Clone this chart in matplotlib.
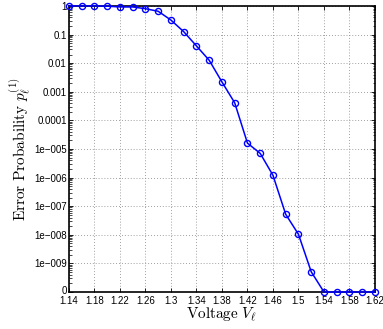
import numpy as np
import matplotlib
matplotlib.use("Agg")
import matplotlib.pyplot as plt
import matplotlib.transforms as mtrans
from matplotlib.ticker import FixedLocator, LogLocator, NullFormatter

voltage = [1.14, 1.16, 1.18, 1.20, 1.22, 1.24, 1.26, 1.28, 1.30, 1.32, 1.34,
           1.36, 1.38, 1.40, 1.42, 1.44, 1.46, 1.48, 1.50, 1.52, 1.54,
           1.56, 1.58, 1.60, 1.62]
error_prob = [1.0, 1.0, 1.0, 0.98, 0.92, 0.92, 0.80, 0.65, 0.32, 0.126, 0.04,
              0.0126, 0.0022, 4.1e-4, 1.6e-5, 7e-6, 1.2e-6, 5.2e-8, 1.04e-8, 5.1e-10, 0.0,
              0.0, 0.0, 0.0, 0.0]
xtick_vals = [1.14, 1.18, 1.22, 1.26, 1.30, 1.34, 1.38, 1.42, 1.46, 1.50, 1.54, 1.58, 1.62]
xtick_labels = ['1.14', '1.18', '1.22', '1.26', '1.3', '1.34', '1.38', '1.42',
                '1.46', '1.5', '1.54', '1.58', '1.62']
ytick_vals = [1e-10, 1e-9, 1e-8, 1e-7, 1e-6, 1e-5, 1e-4, 1e-3, 1e-2, 1e-1, 1]
ytick_labels = ['0', '1e\u2212009', '1e\u2212008', '1e\u2212007', '1e\u2212006', '1e\u2212005',
                '0.0001', '0.001', '0.01', '0.1', '1']

floor = 1e-10
plt.rcParams['mathtext.fontset'] = 'cm'
plt.rcParams['font.family'] = ['Liberation Sans', 'DejaVu Sans']

fig = plt.figure(figsize=(3.83, 3.29), dpi=100)
ax = fig.add_axes([0.180, 0.1125, 0.799, 0.8695])

y = np.maximum(np.array(error_prob), floor)
ax.plot(voltage, y, color=(0, 0, 1), lw=1.1, marker='o', markersize=4.4,
        markerfacecolor='none', markeredgecolor=(0, 0, 1), markeredgewidth=1.0,
        clip_on=False, zorder=5)

ax.set_yscale('log')
ax.set_xlim(1.14, 1.62)
ax.set_ylim(1e-10, 1)
ax.set_xticks(xtick_vals)
ax.set_xticklabels(xtick_labels)
ax.yaxis.set_major_locator(FixedLocator(ytick_vals))
ax.set_yticklabels(ytick_labels)
ax.yaxis.set_minor_locator(LogLocator(base=10, subs=np.arange(2, 10), numticks=100))
ax.yaxis.set_minor_formatter(NullFormatter())

ax.tick_params(which='both', direction='in', top=True, right=True, labelsize=7,
               colors='black')
ax.tick_params(axis='y', pad=1.5)
ax.tick_params(axis='x', pad=3)
ax.tick_params(which='major', length=3, width=0.6)
ax.tick_params(which='minor', length=1.8, width=0.5)
ax.grid(True, which='major', linestyle=(0, (1, 2.5)), color='#808080', linewidth=0.6)
for s in ax.spines.values():
    s.set_linewidth(1.2)
    s.set_color('black')

# lift the "0" label a touch, as in the reference
zero_lbl = ax.get_yticklabels()[0]
zero_lbl.set_transform(zero_lbl.get_transform() +
                       mtrans.ScaledTranslation(0, 2 / 100, fig.dpi_scale_trans))

ax.set_xlabel(r'$\mathrm{Voltage}\ V_\ell$', fontsize=11, labelpad=0)
ax.set_ylabel(r'$\mathrm{Error\ Probability}\ p_\ell^{(1)}$', fontsize=11, labelpad=1)

fig.savefig('out.png', dpi=100)
